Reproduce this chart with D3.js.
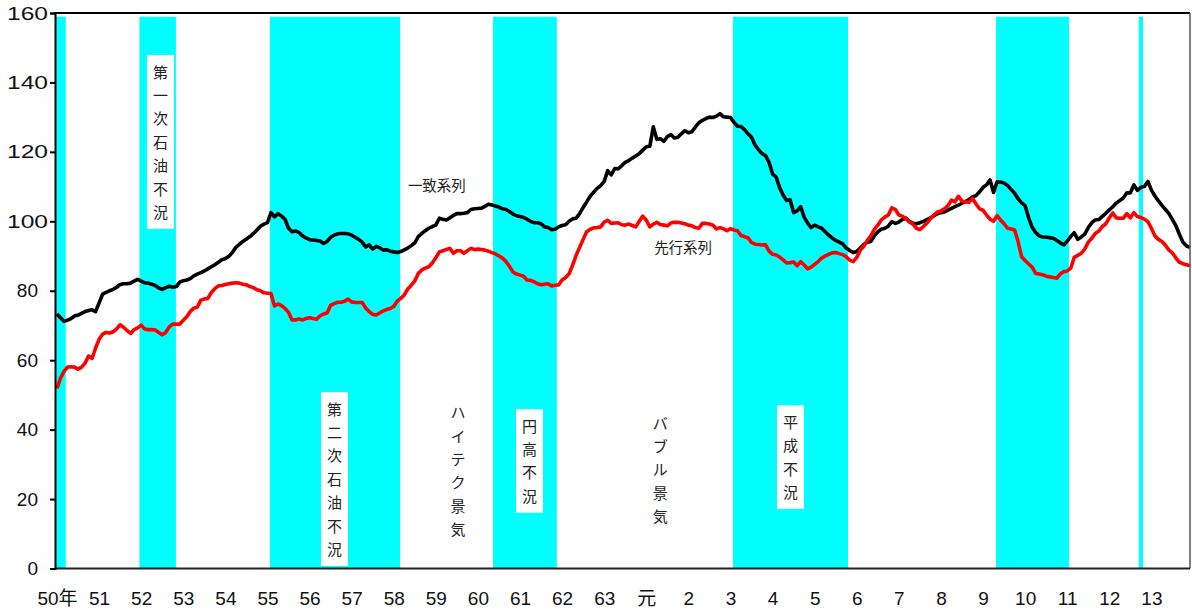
<!DOCTYPE html>
<html>
<head>
<meta charset="utf-8">
<script src="https://cdn.jsdelivr.net/npm/d3@7"></script>
<style>
  body { margin: 0; background: #fff; }
  svg text { font-family: "Liberation Sans", Arial, "Noto Sans CJK JP", sans-serif; fill: #111; }
  .jp { font-family: "Noto Sans CJK JP", sans-serif; }
</style>
</head>
<body>
<svg id="chart" width="1192" height="612"></svg>
<script>
// x axis: one label per year (Showa 50 = 1975 ... Heisei 13 = 2001), monthly data
const YEAR_LABELS = ["50年","51","52","53","54","55","56","57","58","59","60","61","62","63",
                     "元","2","3","4","5","6","7","8","9","10","11","12","13"];
const Y_TICKS = [0, 20, 40, 60, 80, 100, 120, 140, 160];

// 一致系列 (coincident), monthly from Jan 1975
const COINCIDENT = [
  73.3, 72.2, 71.2, 71.5, 72.0, 72.7, 73.0, 73.5, 74.0, 74.3, 74.5, 74.0,
  76.5, 79.0, 79.5, 80.0, 80.4, 81.0, 81.8, 82.0, 82.0, 82.2, 82.8, 83.3,
  82.8, 82.3, 82.2, 81.9, 81.5, 80.8, 80.4, 80.9, 81.3, 81.0, 81.2, 82.5,
  82.9, 83.1, 83.5, 84.3, 84.8, 85.2, 85.7, 86.3, 86.9, 87.5, 88.2, 88.9,
  89.3, 89.9, 91.0, 92.5, 93.4, 94.2, 94.9, 95.6, 96.5, 97.5, 98.6, 99.2,
  99.6, 102.5, 101.3, 102.2, 101.5, 100.6, 98.0, 97.0, 97.2, 96.8, 95.8, 95.2,
  94.7, 94.6, 94.5, 94.3, 93.6, 94.2, 95.4, 96.0, 96.4, 96.5, 96.5, 96.4,
  96.0, 95.4, 94.8, 94.0, 92.6, 93.2, 92.0, 92.8, 92.4, 91.7, 91.8, 91.4,
  91.2, 91.0, 91.3, 91.8, 92.3, 93.0, 93.8, 95.6, 96.5, 97.3, 98.0, 98.5,
  98.9, 100.9, 100.6, 100.4, 101.0, 101.7, 102.2, 102.2, 102.3, 102.5, 103.4, 103.6,
  103.7, 103.8, 104.3, 104.9, 104.7, 104.4, 104.1, 103.6, 103.4, 102.8, 102.1, 101.6,
  101.4, 101.1, 100.6, 100.0, 99.6, 99.6, 99.3, 98.4, 98.2, 97.6, 97.7, 98.4,
  98.8, 99.0, 100.0, 100.7, 100.9, 102.2, 104.0, 105.6, 107.2, 108.4, 109.5, 110.3,
  111.5, 114.6, 113.4, 115.2, 115.1, 116.0, 117.0, 117.5, 118.2, 118.8, 119.5, 120.5,
  121.5, 121.6, 127.2, 123.6, 123.8, 123.0, 124.4, 125.0, 124.0, 124.2, 125.2, 126.1,
  125.5, 125.8, 127.2, 128.4, 129.1, 129.6, 130.0, 129.9, 130.3, 131.0, 130.1, 130.0,
  129.9, 128.5, 127.4, 127.3, 126.4, 125.2, 124.2, 122.0, 120.6, 119.5, 118.9, 117.0,
  113.6, 112.8, 109.7, 107.6, 106.0, 106.2, 102.5, 103.0, 104.2, 101.2, 99.5, 98.2,
  98.9, 98.4, 98.0, 97.0, 96.0, 95.2, 94.5, 94.0, 93.5, 92.3, 91.6, 91.0,
  91.3, 92.3, 93.3, 94.0, 94.2, 95.8, 97.0, 97.7, 98.0, 98.6, 99.9, 99.4,
  99.8, 100.5, 100.9, 100.0, 99.4, 99.3, 99.6, 100.0, 100.5, 101.0, 101.6, 102.2,
  102.5, 102.7, 103.2, 103.7, 104.2, 104.7, 105.2, 105.7, 106.3, 107.0, 107.4, 108.5,
  109.8, 110.5, 111.9, 108.3, 111.4, 111.3, 111.0, 110.3, 109.2, 108.1, 106.5, 105.3,
  104.5, 101.0, 98.3, 96.8, 95.8, 95.5, 95.4, 95.3, 95.1, 94.5, 93.8, 93.2,
  94.3, 95.6, 96.7, 94.8, 95.5, 96.3, 98.2, 99.6, 100.4, 100.5, 101.4, 102.3,
  103.3, 104.2, 105.3, 106.0, 106.7, 108.2, 108.2, 110.5, 108.9, 109.8, 110.0, 111.5,
  109.0, 107.3, 105.9, 104.6, 103.4, 102.2, 100.5, 98.7, 96.2, 94.0, 92.9, 92.5
];

// 先行系列 (leading), monthly from Jan 1975
const LEADING = [
  51.9, 54.8, 56.8, 58.0, 58.1, 58.0, 57.4, 58.0, 59.1, 61.2, 60.5, 63.5,
  66.0, 67.5, 68.0, 67.8, 68.2, 69.0, 70.2, 69.5, 68.5, 67.7, 68.8, 69.3,
  70.1, 69.0, 68.8, 68.8, 68.7, 68.0, 67.3, 68.0, 69.6, 70.4, 70.4, 70.4,
  71.5, 72.5, 74.0, 75.0, 75.3, 77.3, 77.6, 77.8, 79.5, 80.6, 81.4, 81.5,
  81.8, 82.0, 82.2, 82.3, 82.2, 81.9, 81.7, 81.2, 80.9, 80.3, 80.0, 79.4,
  79.3, 79.2, 75.6, 76.2, 75.7, 74.9, 73.8, 71.6, 71.6, 71.9, 71.6, 72.0,
  72.2, 72.0, 71.8, 72.8, 73.3, 73.6, 75.8, 76.3, 76.7, 76.7, 77.0, 77.6,
  76.8, 76.6, 76.6, 76.6, 75.0, 74.0, 73.2, 73.0, 73.6, 74.2, 74.6, 74.9,
  75.5, 77.0, 77.8, 78.8, 80.5, 81.6, 82.8, 85.0, 86.0, 86.5, 86.9, 88.0,
  89.5, 91.2, 91.5, 91.9, 92.2, 90.8, 91.5, 91.5, 90.8, 91.5, 92.2, 91.9,
  92.0, 91.9, 91.7, 91.4, 91.0, 90.6, 90.0, 89.4, 88.4, 87.0, 85.4, 84.8,
  84.5, 84.2, 83.1, 83.0, 82.6, 82.0, 81.7, 81.9, 82.0, 81.4, 81.6, 81.7,
  83.1, 83.8, 84.9, 87.4, 90.2, 92.5, 94.8, 97.0, 97.7, 98.1, 98.2, 98.4,
  99.8, 100.3, 99.4, 99.5, 99.6, 99.0, 98.9, 99.2, 98.8, 98.4, 100.0, 101.5,
  100.3, 98.4, 99.2, 99.7, 99.1, 98.9, 98.7, 99.5, 99.7, 99.7, 99.5, 99.3,
  98.9, 98.7, 98.2, 98.0, 99.4, 99.4, 99.2, 98.9, 97.8, 98.2, 97.8, 97.3,
  97.9, 97.5, 97.3, 95.9, 95.6, 95.2, 93.9, 93.4, 93.3, 93.2, 93.2, 91.4,
  90.5, 90.3, 89.7, 88.9, 88.0, 88.1, 88.3, 87.2, 88.4, 87.4, 86.3, 86.8,
  87.6, 88.4, 89.4, 90.0, 90.5, 90.9, 91.0, 90.7, 90.4, 89.8, 88.8, 88.4,
  89.6, 91.7, 92.8, 94.5, 95.8, 97.7, 98.9, 100.4, 101.2, 101.8, 103.9, 103.4,
  101.8, 101.5, 100.8, 99.8, 99.2, 98.0, 97.6, 98.5, 99.5, 100.7, 101.8, 102.7,
  103.0, 103.6, 104.5, 106.1, 105.6, 107.2, 105.8, 105.6, 105.5, 106.6, 105.0, 103.6,
  103.2, 101.8, 100.6, 100.0, 101.6, 100.4, 99.3, 98.0, 97.8, 97.5, 94.1, 89.8,
  88.7, 87.7, 86.8, 85.0, 84.8, 84.6, 84.2, 84.0, 83.8, 83.6, 84.8, 85.5,
  85.7, 86.5, 89.6, 90.2, 90.8, 92.0, 94.0, 95.1, 96.5, 97.2, 98.5, 99.3,
  101.0, 102.4, 101.0, 100.9, 100.9, 102.2, 101.0, 102.5, 101.4, 101.1, 100.6, 99.9,
  98.0, 95.8, 94.8, 94.2, 93.1, 91.7, 90.9, 89.4, 88.2, 87.8, 87.5, 87.2
];

// recession periods, month offsets from Jan 1975 (band edges)
const RECESSION_START = [-0.5, 23.5, 60.7, 124.3, 192.7, 267.7, 308.4];
const RECESSION_END   = [ 2.5, 33.9, 97.8, 142.5, 225.5, 288.5, 309.6];
const BAND_TOP = 158.9;

// period names written vertically
const PERIOD_NAMES = ["第一次石油不況", "第二次石油不況", "ハイテク景気", "円高不況", "バブル景気", "平成不況"];

const svg = d3.select("#chart");

const x = d3.scaleLinear().domain([0, COINCIDENT.length - 1]).range([57, 1190]);
const y = d3.scaleLinear().domain([0, 160]).range([568.5, 13]);
const LEFT = 55, RIGHT = 1190;

// bands
svg.append("g").selectAll("rect")
  .data(RECESSION_START.map((s, i) => [s, RECESSION_END[i]]))
  .join("rect")
  .attr("x", d => Math.max(LEFT, x(d[0])))
  .attr("width", d => x(d[1]) - Math.max(LEFT, x(d[0])))
  .attr("y", y(BAND_TOP))
  .attr("height", y(0) - y(BAND_TOP))
  .attr("fill", "#00ffff");

// vertical period labels: [month at centre, value at top of label, boxed?]
const notePos = [
  [29.5, 147.9, true],
  [79.1, 50.8, true],
  [114.3, 49.8, false],
  [134.7, 45.9, true],
  [172.0, 46.8, false],
  [209.1, 47.0, true]
];
const CH = 23.4;
const notes = svg.append("g");
PERIOD_NAMES.forEach((name, i) => {
  const [m, v, boxed] = notePos[i];
  const cx = x(m), top = y(v);
  const chars = Array.from(name);
  if (boxed) {
    notes.append("rect")
      .attr("x", cx - 13.5).attr("y", top)
      .attr("width", 27).attr("height", chars.length * CH + 10)
      .attr("fill", "#fff");
  }
  chars.forEach((c, k) => {
    notes.append("text").attr("class", "jp")
      .attr("x", cx).attr("y", top + 16 + k * CH)
      .attr("text-anchor", "middle").attr("dominant-baseline", "central")
      .style("font-size", "15px").style("fill", "#222")
      .text(c);
  });
});

// series
const line = d3.line().x((d, i) => x(i)).y(d => y(d));
svg.append("path").datum(COINCIDENT)
  .attr("d", line).attr("fill", "none")
  .attr("stroke", "#000").attr("stroke-width", 3.6).attr("stroke-linejoin", "round");
svg.append("path").datum(LEADING)
  .attr("d", line).attr("fill", "none")
  .attr("stroke", "#ff0000").attr("stroke-width", 3.6).attr("stroke-linejoin", "round");

// series labels
svg.append("text").attr("class", "jp")
  .attr("x", x(108.3)).attr("y", y(110.5))
  .attr("text-anchor", "middle").attr("dominant-baseline", "central")
  .style("font-size", "14.5px").style("fill", "#222").text("一致系列");
svg.append("text").attr("class", "jp")
  .attr("x", x(178.5)).attr("y", y(92.7))
  .attr("text-anchor", "middle").attr("dominant-baseline", "central")
  .style("font-size", "14.5px").style("fill", "#222").text("先行系列");

// frame
svg.append("line").attr("x1", LEFT).attr("x2", RIGHT).attr("y1", y(160)).attr("y2", y(160))
  .attr("stroke", "#000").attr("stroke-width", 2);
svg.append("line").attr("x1", RIGHT).attr("x2", RIGHT).attr("y1", y(160)).attr("y2", y(0))
  .attr("stroke", "#555").attr("stroke-width", 1.5);
svg.append("line").attr("x1", LEFT).attr("x2", RIGHT).attr("y1", y(0)).attr("y2", y(0))
  .attr("stroke", "#222").attr("stroke-width", 2);

// y axis
const yAxis = svg.append("g").attr("transform", `translate(${LEFT},0)`)
  .call(d3.axisLeft(y).tickValues(Y_TICKS).tickSize(5).tickPadding(12));
yAxis.select(".domain").attr("stroke", "#000").attr("stroke-width", 2);
yAxis.selectAll(".tick line").attr("stroke", "#000").attr("stroke-width", 2);
yAxis.selectAll(".tick text")
  .style("font-size", "19px").style("font-family", "'Liberation Sans', Arial, sans-serif")
  .attr("fill", "#111");
yAxis.selectAll(".tick text").filter(d => d >= 100)
  .attr("x", -7).attr("textLength", 41).attr("lengthAdjust", "spacingAndGlyphs");

// x axis labels (one per January)
const xAxis = svg.append("g").attr("transform", `translate(0,${y(0)})`)
  .call(d3.axisBottom(x)
    .tickValues(YEAR_LABELS.map((_, i) => i * 12))
    .tickFormat((d, i) => YEAR_LABELS[i])
    .tickSize(0).tickPadding(23));
xAxis.select(".domain").remove();
xAxis.selectAll(".tick text")
  .style("font-size", "19px")
  .style("font-family", "'Liberation Sans', Arial, 'Noto Sans CJK JP', sans-serif")
  .attr("fill", "#111");
</script>
</body>
</html>
